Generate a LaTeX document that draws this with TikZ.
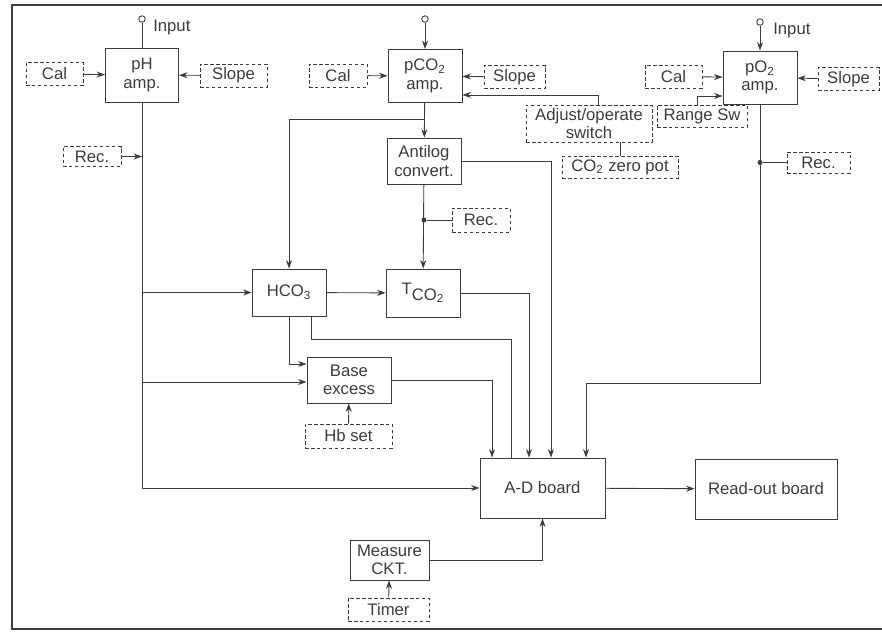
\documentclass[tikz,border=0pt]{standalone}
\usepackage{fontspec}
\setmainfont{Liberation Sans}
\usepackage{tikz}
\usetikzlibrary{arrows.meta}
\definecolor{inkcol}{RGB}{60,60,60}

\begin{document}
\begin{tikzpicture}[
  x=0.02cm, y=-0.02cm,
  >={Stealth[length=1.7mm,width=1.2mm]},
  line width=0.5pt, draw=inkcol, text=inkcol,
  font=\fontsize{9.5}{10.5}\selectfont,
  blk/.style={draw=inkcol,align=center,inner sep=0pt},
  opt/.style={draw=inkcol,dash pattern=on 2pt off 1.4pt,align=center,inner sep=0pt,minimum height=0.46cm},
  term/.style={circle,draw=inkcol,fill=white,minimum size=0.13cm,inner sep=0pt},
  dot/.style={circle,fill=inkcol,minimum size=0.1cm,inner sep=0pt},
]
\useasboundingbox (0,0) rectangle (882,633);
% --- frame ---
\draw[line width=1pt] (882,5) -- (12,5) -- (12,629) -- (882,629);

% --- amplifiers and their inputs ---
\node[blk,minimum width=1.46cm,minimum height=1.08cm] (phamp)  at (142,75)  {pH\\amp.};
\node[blk,minimum width=1.48cm,minimum height=1.06cm] (co2amp) at (425,76)  {pCO\textsubscript{2}\\amp.};
\node[blk,minimum width=1.48cm,minimum height=1.06cm] (o2amp)  at (760,77.5) {pO\textsubscript{2}\\amp.};
\node[term] (phin)  at (142,19) {};
\node[term] (co2in) at (425,19) {};
\node[term] (o2in)  at (760,22) {};
\node[anchor=west] (phinlbl) at (147,27) {Input};
\node[anchor=west] (o2inlbl) at (767,30) {Input};

\node[opt,minimum width=1.14cm] (calph)    at (54.5,74)   {Cal};
\node[opt,minimum width=1.34cm] (slopeph)  at (233.5,75.5) {Slope};
\node[opt,minimum width=1.16cm,minimum height=0.4cm] (recph) at (92,156.5) {Rec.};
\node[opt,minimum width=1.16cm] (calco2)   at (338,75.5)  {Cal};
\node[opt,minimum width=1.22cm] (slopeco2) at (514.5,77)  {Slope};
\node[opt,minimum width=2.52cm,minimum height=0.74cm] (adjust) at (589,123.5) {Adjust/operate\\switch};
\node[opt,minimum width=2.32cm,minimum height=0.44cm] (zeropot) at (620,167) {CO\textsubscript{2} zero pot};
\node[opt,minimum width=1.14cm] (calo2)    at (673.5,76.5) {Cal};
\node[opt,minimum width=1.22cm] (slopeo2)  at (848.5,79)  {Slope};
\node[opt,minimum width=1.80cm,minimum height=0.44cm] (rangesw) at (702,116) {Range Sw};
\node[opt,minimum width=1.26cm,minimum height=0.42cm] (reco2) at (818.5,162.5) {Rec.};

% --- computing blocks ---
\node[blk,minimum width=1.48cm,minimum height=0.92cm] (antilog) at (424,161) {Antilog\\convert.};
\node[opt,minimum width=1.16cm,minimum height=0.48cm] (recanti) at (481,220) {Rec.};
\node[blk,minimum width=1.48cm,minimum height=0.94cm] (hco3) at (289,292.5) {HCO\textsubscript{3}};
\node[blk,minimum width=1.48cm,minimum height=0.96cm] (tco2) at (423,293) {T\raisebox{-0.6ex}{CO\textsubscript{2}}};
\node[blk,minimum width=1.68cm,minimum height=0.92cm] (base) at (349,380) {Base\\excess};
\node[opt,minimum width=1.74cm,minimum height=0.48cm] (hbset) at (348.5,436) {Hb set};
\node[blk,minimum width=2.50cm,minimum height=1.20cm] (adboard) at (542.5,488) {A-D board};
\node[blk,minimum width=2.84cm,minimum height=1.20cm] (readout) at (766,489) {Read-out board};
\node[blk,minimum width=1.58cm,minimum height=0.80cm] (measure) at (389.5,560) {Measure\\CKT.};
\node[opt,minimum width=1.62cm,minimum height=0.46cm] (timer) at (388.5,609.5) {Timer};

% --- taps and dots ---
\coordinate (co2tap) at (424,119);
\coordinate (phtap1) at (142,292.5);
\coordinate (phtap2) at (142,382);
\coordinate (hcoturn) at (511,339);
\coordinate (o2turn) at (760,383);
\node[dot] (antidot) at (424,220) {};
\node[dot] (o2dot) at (760,162.5) {};

% --- inputs into the amplifiers ---
\draw (phin) -- (phamp);
\draw[->] (co2in) -- (co2amp);
\draw[->] (o2in) -- (o2amp);
\draw[->] (calph) -- (phamp);
\draw[->] (slopeph) -- (phamp);
\draw[->] (calco2) -- (co2amp);
\draw[->] (slopeco2) -- (co2amp);
\draw[->] (calo2) -- (o2amp);
\draw[->] (slopeo2) -- (o2amp);
\draw[->] ([xshift=0.18cm]adjust.north) |- ([yshift=-0.38cm]co2amp.east);
\draw (adjust.south -| zeropot.north) -- (zeropot.north);
\draw[->] ([xshift=-0.1cm]rangesw.north) |- ([yshift=-0.37cm]o2amp.west);

% --- pH path ---
\draw[->] (phamp.south) |- (adboard.west);
\draw[->] (recph.east) -- (recph.east -| phamp.south);
\draw[->] (phtap1) -- (hco3.west);
\draw[->] (phtap2) -- (phtap2 -| base.west);

% --- pCO2 path ---
\draw[->] (co2amp) -- (antilog);
\draw[->] (co2tap) -| (hco3.north);
\draw[->] (antilog) -- (tco2);
\draw (antidot) -- (recanti);
\draw[->] (antilog.east) -| ([xshift=0.17cm]adboard.north);
\draw[->] (hco3) -- (tco2);
\draw[->] (hco3.south) |- ([yshift=0.32cm]base.west);
\draw ([xshift=0.44cm]hco3.south) |- (hcoturn) -- (hcoturn |- adboard.north);
\draw[->] (tco2.east) -| ([xshift=-0.27cm]adboard.north);
\draw[->] (base.east) -| ([xshift=-1.01cm]adboard.north);
\draw[->] (hbset) -- (base);

% --- pO2 path ---
\draw (o2dot) -- (reco2);
\draw[->] (o2amp.south) -- (o2turn) -| ([xshift=0.87cm]adboard.north);

% --- output ---
\draw[->] (adboard) -- (readout);
\draw[->] (measure.east) -| (adboard.south);
\draw[->] (timer) -- (measure);
\end{tikzpicture}
\end{document}
